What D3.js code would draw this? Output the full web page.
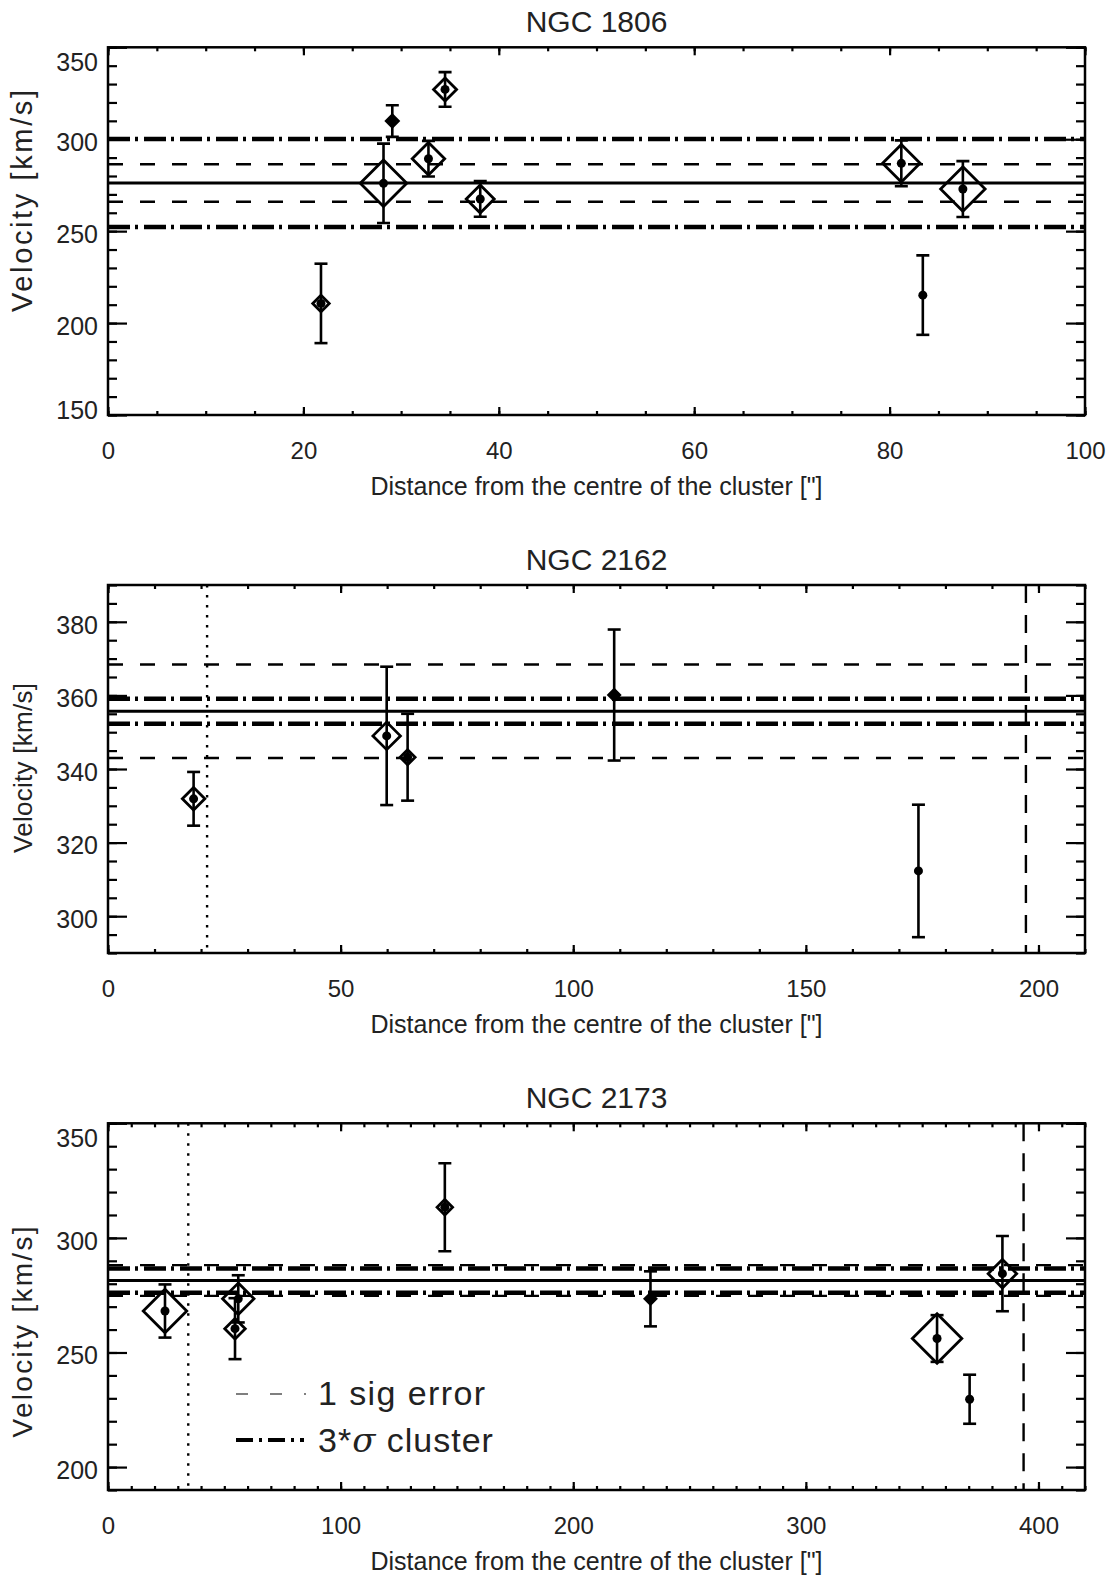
<!DOCTYPE html>
<html>
<head>
<meta charset="utf-8">
<script src="https://cdn.jsdelivr.net/npm/d3@7/dist/d3.min.js"></script>
<style>
  html, body { margin: 0; padding: 0; background: #fff; }
  svg { display: block; }
  text { font-family: "Liberation Sans", Arial, Helvetica, sans-serif; fill: #222; }
</style>
</head>
<body>
<svg id="fig" width="1114" height="1578"></svg>
<script>
// ---- NGC 1806 ----
const n1806Name = "NGC 1806";
const n1806Dist = [21.8, 28.2, 29.1, 32.8, 34.5, 38.1, 81.2, 83.4, 87.5];
const n1806Vel  = [210.7, 276.0, 309.9, 289.4, 327.1, 267.5, 286.9, 215.2, 272.9];
const n1806Err  = [21.6, 21.6, 8.6, 9.7, 9.4, 9.7, 12.5, 21.6, 15.2];
const n1806Wt   = [0.33, 0.93, 0.24, 0.65, 0.46, 0.56, 0.75, 0, 0.89];
const n1806Mean = 276.2, n1806Sig = 10.2, n1806Clip = 23.9;
const n1806XDomain = [0, 100], n1806YDomain = [150, 350];
const n1806XTicks = [0, 20, 40, 60, 80, 100], n1806XMinor = 5;
const n1806YTicks = [150, 200, 250, 300, 350], n1806YMinor = 10;
const n1806VDot = [], n1806VDash = [];

// ---- NGC 2162 ----
const n2162Name = "NGC 2162";
const n2162Dist = [18.4, 59.9, 64.4, 108.8, 174.2];
const n2162Vel  = [331.9, 349.0, 343.2, 360.1, 312.3];
const n2162Err  = [7.3, 18.8, 11.8, 17.8, 18.0];
const n2162Wt   = [0.45, 0.55, 0.3, 0.22, 0];
const n2162Mean = 355.7, n2162Sig = 12.7, n2162Clip = 3.4;
const n2162XDomain = [0, 210], n2162YDomain = [290, 390];
const n2162XTicks = [0, 50, 100, 150, 200], n2162XMinor = 10;
const n2162YTicks = [300, 320, 340, 360, 380], n2162YMinor = 5;
const n2162VDot = [21.3], n2162VDash = [197.3];

// ---- NGC 2173 ----
const n2173Name = "NGC 2173";
const n2173Dist = [24.5, 56.0, 54.6, 144.8, 233.2, 356.4, 370.4, 384.5];
const n2173Vel  = [268.1, 273.4, 260.4, 313.4, 273.4, 256.1, 229.6, 284.4];
const n2173Err  = [11.6, 10.3, 13.3, 19.2, 12.0, 10.2, 10.7, 16.4];
const n2173Wt   = [0.87, 0.63, 0.41, 0.31, 0.22, 0.99, 0, 0.57];
const n2173Mean = 281.4, n2173Sig = 6.7, n2173Clip = 5.3;
const n2173XDomain = [0, 420], n2173YDomain = [190, 350];
const n2173XTicks = [0, 100, 200, 300, 400], n2173XMinor = 10;
const n2173YTicks = [200, 250, 300, 350], n2173YMinor = 10;
const n2173VDot = [34.5], n2173VDash = [393.6];

const xTitle = "Distance from the centre of the cluster [\"]";
const yTitle = "Velocity [km/s]";
const legendLabels = ["1 sig error", "cluster"];

// ---- layout ----
const plotLeft = 108, plotRight = 1085;
const panels = [
  { name: n1806Name, dist: n1806Dist, vel: n1806Vel, err: n1806Err, wt: n1806Wt,
    mean: n1806Mean, sig: n1806Sig, clip: n1806Clip, xd: n1806XDomain, yd: n1806YDomain,
    xt: n1806XTicks, xm: n1806XMinor, yt: n1806YTicks, ym: n1806YMinor,
    vdot: n1806VDot, vdash: n1806VDash,
    top: 47.3, bottom: 415, yTitleMid: 201, yTitleLen: 222, yTitleSize: 29, legend: false },
  { name: n2162Name, dist: n2162Dist, vel: n2162Vel, err: n2162Err, wt: n2162Wt,
    mean: n2162Mean, sig: n2162Sig, clip: n2162Clip, xd: n2162XDomain, yd: n2162YDomain,
    xt: n2162XTicks, xm: n2162XMinor, yt: n2162YTicks, ym: n2162YMinor,
    vdot: n2162VDot, vdash: n2162VDash,
    top: 585, bottom: 953, yTitleMid: 768, yTitleLen: 170, yTitleSize: 26, legend: false },
  { name: n2173Name, dist: n2173Dist, vel: n2173Vel, err: n2173Err, wt: n2173Wt,
    mean: n2173Mean, sig: n2173Sig, clip: n2173Clip, xd: n2173XDomain, yd: n2173YDomain,
    xt: n2173XTicks, xm: n2173XMinor, yt: n2173YTicks, ym: n2173YMinor,
    vdot: n2173VDot, vdash: n2173VDash,
    top: 1123.3, bottom: 1490, yTitleMid: 1332, yTitleLen: 211, yTitleSize: 28, legend: true }
];

const svg = d3.select("#fig");
const markSize = d3.scaleLinear().domain([0, 1]).range([0, 25]);

function minorValues(domain, step) {
  const out = [];
  for (let v = Math.ceil(domain[0] / step) * step; v <= domain[1] + 1e-9; v += step) out.push(v);
  return out;
}

function diamond(cx, cy, s) {
  return `M${cx},${cy - s}L${cx + s},${cy}L${cx},${cy + s}L${cx - s},${cy}Z`;
}

panels.forEach(p => {
  const x = d3.scaleLinear().domain(p.xd).range([plotLeft, plotRight]);
  const y = d3.scaleLinear().domain(p.yd).range([p.bottom, p.top]);
  const g = svg.append("g");

  const clipId = "clip-" + p.name.replace(/\s/g, "");
  svg.append("clipPath").attr("id", clipId)
    .append("rect").attr("x", plotLeft).attr("y", p.top)
    .attr("width", plotRight - plotLeft).attr("height", p.bottom - p.top);
  const inner = g.append("g").attr("clip-path", `url(#${clipId})`);

  // reference lines: mean, 1 sigma, 3 sigma clip
  const hline = (v, cls) => inner.append("line")
    .attr("x1", plotLeft).attr("x2", plotRight)
    .attr("y1", y(v)).attr("y2", y(v)).attr("class", cls);
  [p.mean - p.sig, p.mean + p.sig].forEach(v =>
    hline(v, "dash").attr("stroke", "#000").attr("stroke-width", 2.4).attr("stroke-dasharray", "15,17"));
  [p.mean - p.clip, p.mean + p.clip].forEach(v =>
    hline(v, "dashdot").attr("stroke", "#000").attr("stroke-width", 4.5).attr("stroke-dasharray", "22,5,3,6"));
  hline(p.mean, "mean").attr("stroke", "#000").attr("stroke-width", 3);

  // vertical markers
  p.vdot.forEach(v => inner.append("line")
    .attr("x1", x(v)).attr("x2", x(v)).attr("y1", p.top).attr("y2", p.bottom)
    .attr("stroke", "#000").attr("stroke-width", 2.4).attr("stroke-dasharray", "2.5,7.5"));
  p.vdash.forEach(v => inner.append("line")
    .attr("x1", x(v)).attr("x2", x(v)).attr("y1", p.top).attr("y2", p.bottom)
    .attr("stroke", "#000").attr("stroke-width", 2.4).attr("stroke-dasharray", "18,12"));

  // data points
  const pts = p.dist.map((d, i) => ({ d, v: p.vel[i], e: p.err[i], w: p.wt[i] }));
  const pg = inner.selectAll("g.pt").data(pts).join("g").attr("class", "pt");
  pg.append("line")
    .attr("x1", q => x(q.d)).attr("x2", q => x(q.d))
    .attr("y1", q => y(q.v - q.e)).attr("y2", q => y(q.v + q.e))
    .attr("stroke", "#000").attr("stroke-width", 2.6);
  [-1, 1].forEach(sgn => pg.append("line")
    .attr("x1", q => x(q.d) - 6.5).attr("x2", q => x(q.d) + 6.5)
    .attr("y1", q => y(q.v + sgn * q.e)).attr("y2", q => y(q.v + sgn * q.e))
    .attr("stroke", "#000").attr("stroke-width", 2.6));
  pg.filter(q => q.w > 0).append("path")
    .attr("d", q => diamond(x(q.d), y(q.v), markSize(q.w)))
    .attr("fill", "none").attr("stroke", "#000").attr("stroke-width", 2.8);
  pg.append("circle")
    .attr("cx", q => x(q.d)).attr("cy", q => y(q.v)).attr("r", 4.5).attr("fill", "#000");

  // axes: major + minor ticks on all four sides
  const axisStyle = sel => {
    sel.select(".domain").remove();
    sel.selectAll("line").attr("stroke", "#000").attr("stroke-width", 2.2);
    sel.selectAll("text").style("font-size", "24px").attr("fill", "#222");
  };
  g.append("g").attr("transform", `translate(0,${p.bottom})`)
    .call(d3.axisBottom(x).tickValues(minorValues(p.xd, p.xm)).tickSizeInner(-4).tickSizeOuter(0).tickFormat(""))
    .call(axisStyle);
  g.append("g").attr("transform", `translate(0,${p.bottom})`)
    .call(d3.axisBottom(x).tickValues(p.xt).tickSizeInner(-8).tickSizeOuter(0).tickPadding(27).tickFormat(d3.format("d")))
    .call(axisStyle);
  g.append("g").attr("transform", `translate(0,${p.top})`)
    .call(d3.axisTop(x).tickValues(minorValues(p.xd, p.xm)).tickSizeInner(-4).tickSizeOuter(0).tickFormat(""))
    .call(axisStyle);
  g.append("g").attr("transform", `translate(0,${p.top})`)
    .call(d3.axisTop(x).tickValues(p.xt).tickSizeInner(-8).tickSizeOuter(0).tickFormat(""))
    .call(axisStyle);
  g.append("g").attr("transform", `translate(${plotLeft},0)`)
    .call(d3.axisLeft(y).tickValues(minorValues(p.yd, p.ym)).tickSizeInner(-9).tickSizeOuter(0).tickFormat(""))
    .call(axisStyle);
  const yMajor = g.append("g").attr("transform", `translate(${plotLeft},0)`)
    .call(d3.axisLeft(y).tickValues(p.yt).tickSizeInner(-19).tickSizeOuter(0).tickPadding(10).tickFormat(d3.format("d")))
    .call(axisStyle);
  // keep the end labels inside the frame height
  yMajor.selectAll(".tick").each(function (v) {
    const ty = y(v);
    const cy = Math.min(Math.max(ty, p.top + 12), p.bottom - 8);
    d3.select(this).select("text").attr("y", cy - ty).attr("dy", "0.45em").style("font-size", "25px");
  });
  g.append("g").attr("transform", `translate(${plotRight},0)`)
    .call(d3.axisRight(y).tickValues(minorValues(p.yd, p.ym)).tickSizeInner(-9).tickSizeOuter(0).tickFormat(""))
    .call(axisStyle);
  g.append("g").attr("transform", `translate(${plotRight},0)`)
    .call(d3.axisRight(y).tickValues(p.yt).tickSizeInner(-19).tickSizeOuter(0).tickFormat(""))
    .call(axisStyle);

  // frame
  g.append("rect").attr("x", plotLeft).attr("y", p.top)
    .attr("width", plotRight - plotLeft).attr("height", p.bottom - p.top)
    .attr("fill", "none").attr("stroke", "#000").attr("stroke-width", 2.5);

  // titles
  g.append("text").attr("x", (plotLeft + plotRight) / 2).attr("y", p.top - 15)
    .attr("text-anchor", "middle").style("font-size", "30px").text(p.name);
  g.append("text").attr("x", (plotLeft + plotRight) / 2).attr("y", p.bottom + 80)
    .attr("text-anchor", "middle").style("font-size", "25px").text(xTitle);
  g.append("text")
    .attr("transform", `translate(32,${p.yTitleMid}) rotate(-90)`)
    .attr("text-anchor", "middle").style("font-size", p.yTitleSize + "px")
    .attr("textLength", p.yTitleLen).attr("lengthAdjust", "spacing")
    .text(yTitle);

  // legend
  if (p.legend) {
    const lg = g.append("g");
    lg.append("line").attr("x1", 236).attr("x2", 306).attr("y1", 1394).attr("y2", 1394)
      .attr("stroke", "#000").attr("stroke-width", 1.2).attr("stroke-dasharray", "12,22");
    lg.append("text").attr("x", 318).attr("y", 1405).style("font-size", "34px")
      .style("letter-spacing", "1.4px").text(legendLabels[0]);
    lg.append("line").attr("x1", 236).attr("x2", 304).attr("y1", 1440).attr("y2", 1440)
      .attr("stroke", "#000").attr("stroke-width", 4).attr("stroke-dasharray", "17,6,3,6");
    const t = lg.append("text").attr("x", 318).attr("y", 1452).style("font-size", "34px")
      .style("letter-spacing", "1px");
    t.append("tspan").text("3*");
    t.append("tspan").style("font-style", "italic").style("font-family", "'DejaVu Serif', serif").text("σ");
    t.append("tspan").text(" " + legendLabels[1]);
  }
});
</script>
</body>
</html>
